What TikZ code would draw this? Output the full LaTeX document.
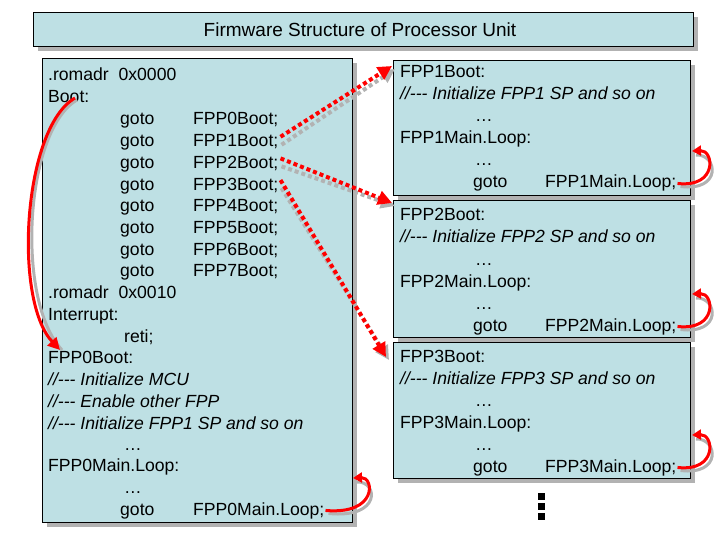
\documentclass[tikz,border=0pt]{standalone}
\usepackage{fontspec}
\setmainfont{Liberation Sans}
\usetikzlibrary{arrows.meta,shadows}
\begin{document}
\begin{tikzpicture}[x=1pt,y=-1pt,
 box/.style={draw=black,fill=boxc,drop shadow={shadow xshift=5pt,shadow yshift=-5pt,fill=gray!60,opacity=1}},
 txt/.style={anchor=base west,inner sep=0pt,font=\fontsize{17.6}{20}\selectfont},
 itx/.style={txt,font=\fontsize{17.6}{20}\selectfont\itshape},
 dot/.style={red,line width=4pt,dash pattern=on 4pt off 3pt,-{Triangle[length=14pt,width=14pt]}},
 loopy/.style={red,line width=3pt,-{Triangle[length=9pt,width=10pt]}}]
\definecolor{boxc}{RGB}{190,224,228}
\useasboundingbox (0,0) rectangle (720,540);
\node[box,minimum width=660pt,minimum height=34pt,anchor=north west] (title) at (33,12) {};
\node[font=\fontsize{19}{22}\selectfont] (tt) at (360,30) {Firmware Structure of Processor Unit};
\path[box] (42,58) rectangle (352,522);
\path[box] (393,60) rectangle (690,195);
\path[box] (393,200) rectangle (690,337);
\path[box] (393,342) rectangle (690,478);
% left text
\foreach \t/\y/\x [count=\i] in {{.romadr\ \ 0x0000}/81/48,{Boot:}/103/48,{.romadr\ \ 0x0010}/298/48,{Interrupt:}/320/48,{reti;}/342/124,{FPP0Boot:}/363/48,{FPP0Main.Loop:}/471/48,{\dots}/493/124}
  \node[txt] (l\i) at (\x,\y) {\t};
\foreach \t/\y/\x [count=\i] in {{//-{}-{}- Initialize MCU}/385/48,{//-{}-{}- Enable other FPP}/407/48,{//-{}-{}- Initialize FPP1 SP and so on}/429/48}
  \node[itx] (c\i) at (\x,\y) {\t};
\node[txt] (c4) at (124,450) {\dots};
\foreach \k in {0,...,7}{
  \node[txt] (g\k) at (120,{125+21.7*\k}) {goto};
  \node[txt] (b\k) at (193,{125+21.7*\k}) {FPP\k Boot;};
}
\node[txt] (gm) at (120,515) {goto};
\node[txt] (bm) at (193,515) {FPP0Main.Loop;};
% right text
\foreach \n/\y in {1/78,2/221,3/362}{
  \node[txt] (r\n a) at (400,\y) {FPP\n Boot:};
  \node[itx] (r\n b) at (400,\y+22) {//-{}-{}- Initialize FPP\n\ SP and so on};
  \node[txt] (r\n c) at (475,\y+44) {\dots};
  \node[txt] (r\n d) at (400,\y+66) {FPP\n Main.Loop:};
  \node[txt] (r\n e) at (475,\y+88) {\dots};
  \node[txt] (r\n f) at (473,\y+110) {goto};
  \node[txt] (r\n g) at (545,\y+110) {FPP\n Main.Loop;};
  \draw[gray!60,line width=3pt] ([shift={(4,3)}]r\n g.east) .. controls (722,{\y+114}) and (718,{\y+76}) .. (696,{\y+77});
  \draw[loopy] ([xshift=1pt]r\n g.east) .. controls (718,{\y+110}) and (714,{\y+72}) .. (692,{\y+73});
}
\draw[gray!60,line width=3pt] ([shift={(4,3)}]bm.east) .. controls (382,519) and (378,481) .. (357,482);
\draw[loopy] ([xshift=1pt]bm.east) .. controls (378,515) and (374,477) .. (353,478);
% dots
\foreach \y in {493,503,513} \fill (538,\y) rectangle (545,\y+7);
% dotted arrows
\coordinate (t1) at (392,66);
\coordinate (t2) at (392,203);
\coordinate (t3) at (386,357);
\foreach \s/\t in {b1/t1,b2/t2,b3/t3}{
  \draw[dot,gray!60] ([shift={(3,3)}]\s.east) -- ([shift={(3,3)}]\t);
  \draw[dot] ([shift={(2,-5)}]\s.east) -- (\t);
}
\draw[gray!60,line width=3pt] (77,100) .. controls (25,130) and (15,300) .. (62,350);
\draw[red,line width=3pt,-{Triangle[length=12pt,width=12pt]}] (75,98) .. controls (23,128) and (13,300) .. (60,350);
\end{tikzpicture}
\end{document}
